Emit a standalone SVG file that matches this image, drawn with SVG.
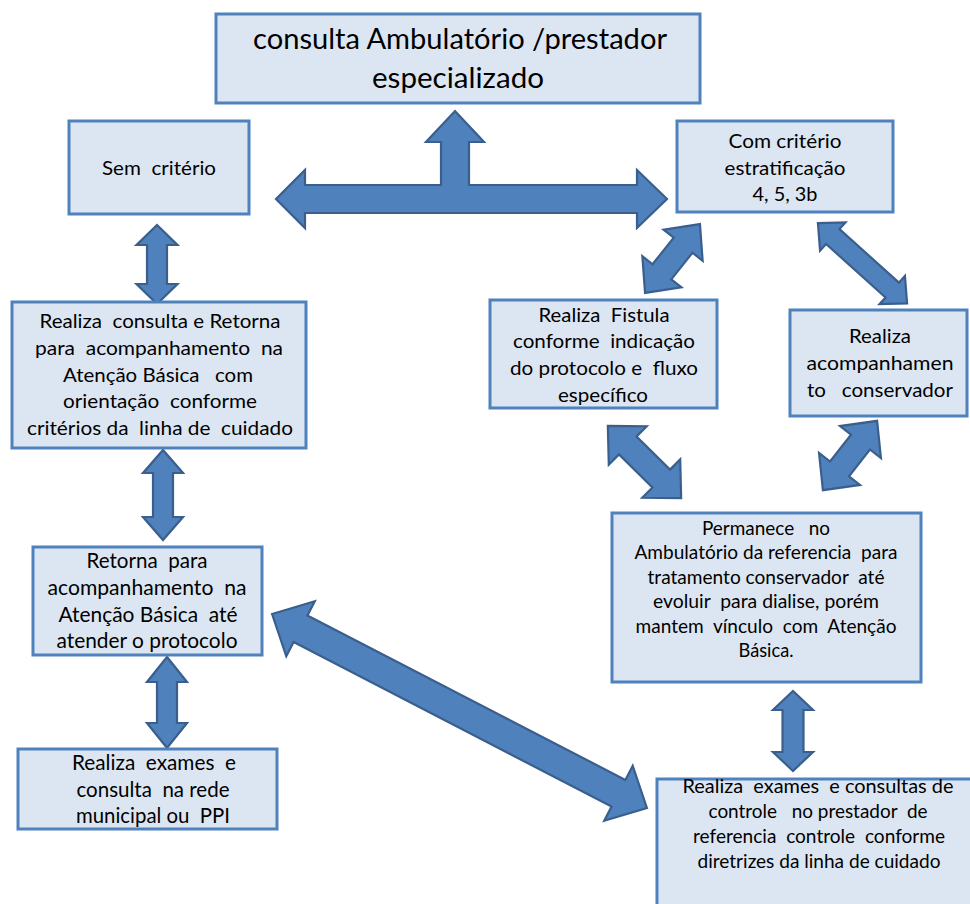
<svg xmlns="http://www.w3.org/2000/svg" width="970" height="904" viewBox="0 0 970 904">
  <style>
    .box { fill: #DCE6F2; stroke: #4F81BD; stroke-width: 3; }
    .arrow { fill: #4F81BD; stroke: #3A5F8C; stroke-width: 2.2; stroke-linejoin: miter; }
    text { font-family: Lato, "Liberation Sans", sans-serif; fill: #000; text-anchor: middle; white-space: pre; }
    .t19 { font-size: 19px; }
    .t21 { font-size: 21px; }
    .t30 { font-size: 29px; }
  </style>
  <rect width="970" height="904" fill="#fff"/>

  <g id="connectors">
    <!-- three-way arrow under the top box -->
    <polygon class="arrow" points="276,199 305,170 305,185 441,185 441,142 426,142 455,111 484,142 469,142 469,185 637,185 637,170 667,199 637,228 637,213 305,213 305,228"/>
    <!-- left column -->
    <polygon class="arrow" points="157,225 177.5,245 167,245 167,284 177.5,284 157,304 136.5,284 147,284 147,245 136.5,245"/>
    <polygon class="arrow" points="163,450 183,473 173,473 173,517 183,517 163,540 143,517 153,517 153,473 143,473"/>
    <polygon class="arrow" points="167,657 187,682 177,682 177,723 187,723 167,748 147,723 157,723 157,682 147,682"/>
    <!-- right side -->
    <polygon class="arrow" transform="translate(672.5,258.5) rotate(-51.4)" points="-44,0 -17,-25 -17,-12 17,-12 17,-25 44,0 17,25 17,12 -17,12 -17,25"/>
    <polygon class="arrow" transform="translate(862.5,263.3) rotate(42)" points="-60,0 -40,-19 -40,-10 40,-10 40,-19 60,0 40,19 40,10 -40,10 -40,19"/>
    <polygon class="arrow" transform="translate(644.5,462) rotate(44.6)" points="-51.5,0 -23.5,-27 -23.5,-12.5 23.5,-12.5 23.5,-27 51.5,0 23.5,27 23.5,12.5 -23.5,12.5 -23.5,27"/>
    <polygon class="arrow" transform="translate(850,455.5) rotate(128)" points="-44,0 -17,-26 -17,-12 17,-12 17,-26 44,0 17,26 17,12 -17,12 -17,26"/>
    <polygon class="arrow" points="793,691 813,710 803.5,710 803.5,752 813,752 793,771 773,752 782.5,752 782.5,710 773,710"/>
    <!-- long diagonal link -->
    <polygon class="arrow" transform="translate(459.5,711) rotate(27.36)" points="-211,0 -179,-31 -179,-15 179,-15 179,-31 211,0 179,31 179,15 -179,15 -179,31"/>
  </g>

  <g id="n-ambulatorio">
    <rect class="box" x="216" y="14" width="484" height="89"/>
    <text class="t30" x="460" y="49" textLength="414" lengthAdjust="spacingAndGlyphs">consulta Ambulatório /prestador</text>
    <text class="t30" x="458" y="88" textLength="172" lengthAdjust="spacingAndGlyphs">especializado</text>
  </g>

  <g id="n-sem-criterio">
    <rect class="box" x="69" y="121" width="180" height="93"/>
    <text class="t19" x="159" y="175" textLength="114" lengthAdjust="spacingAndGlyphs">Sem  critério</text>
  </g>

  <g id="n-com-criterio">
    <rect class="box" x="677" y="121" width="216" height="91"/>
    <text class="t19" x="785" y="148" textLength="113" lengthAdjust="spacingAndGlyphs">Com critério</text>
    <text class="t19" x="785" y="175" textLength="121" lengthAdjust="spacingAndGlyphs">estratificação</text>
    <text class="t19" x="785" y="201" textLength="65" lengthAdjust="spacingAndGlyphs">4, 5, 3b</text>
  </g>

  <g id="n-realiza-consulta">
    <rect class="box" x="12" y="302" width="294" height="146"/>
    <text class="t19" x="160" y="328" textLength="241" lengthAdjust="spacingAndGlyphs">Realiza  consulta e Retorna</text>
    <text class="t19" x="159" y="355" textLength="248" lengthAdjust="spacingAndGlyphs">para  acompanhamento  na</text>
    <text class="t19" x="158" y="382" textLength="190" lengthAdjust="spacingAndGlyphs">Atenção Básica   com</text>
    <text class="t19" x="160" y="408" textLength="194" lengthAdjust="spacingAndGlyphs">orientação  conforme</text>
    <text class="t19" x="160" y="435" textLength="266" lengthAdjust="spacingAndGlyphs">critérios da  linha de  cuidado</text>
  </g>

  <g id="n-fistula">
    <rect class="box" x="490" y="300" width="227" height="108"/>
    <text class="t19" x="604" y="322" textLength="131" lengthAdjust="spacingAndGlyphs">Realiza  Fistula</text>
    <text class="t19" x="604" y="348" textLength="182" lengthAdjust="spacingAndGlyphs">conforme  indicação</text>
    <text class="t19" x="604" y="375" textLength="188" lengthAdjust="spacingAndGlyphs">do protocolo e  fluxo</text>
    <text class="t19" x="603" y="402" textLength="90" lengthAdjust="spacingAndGlyphs">específico</text>
  </g>

  <g id="n-conservador">
    <rect class="box" x="790" y="310" width="177" height="106"/>
    <text class="t19" x="880" y="343" textLength="62" lengthAdjust="spacingAndGlyphs">Realiza</text>
    <text class="t19" x="880" y="370" textLength="147" lengthAdjust="spacingAndGlyphs">acompanhamen</text>
    <text class="t19" x="880" y="397" textLength="146" lengthAdjust="spacingAndGlyphs">to   conservador</text>
  </g>

  <g id="n-permanece">
    <rect class="box" x="612" y="513" width="309" height="169"/>
    <text class="t19" x="766" y="535" textLength="128" lengthAdjust="spacingAndGlyphs">Permanece   no</text>
    <text class="t19" x="766" y="559" textLength="263" lengthAdjust="spacingAndGlyphs">Ambulatório da referencia  para</text>
    <text class="t19" x="766" y="584" textLength="237" lengthAdjust="spacingAndGlyphs">tratamento conservador  até</text>
    <text class="t19" x="766" y="608" textLength="226" lengthAdjust="spacingAndGlyphs">evoluir  para dialise, porém</text>
    <text class="t19" x="766" y="633" textLength="261" lengthAdjust="spacingAndGlyphs">mantem  vínculo  com  Atenção</text>
    <text class="t19" x="766" y="657" textLength="55" lengthAdjust="spacingAndGlyphs">Básica.</text>
  </g>

  <g id="n-retorna">
    <rect class="box" x="33" y="547" width="229" height="108"/>
    <text class="t21" x="147" y="568" textLength="121" lengthAdjust="spacingAndGlyphs">Retorna  para</text>
    <text class="t21" x="147" y="595" textLength="199" lengthAdjust="spacingAndGlyphs">acompanhamento  na</text>
    <text class="t21" x="148" y="622" textLength="179" lengthAdjust="spacingAndGlyphs">Atenção Básica  até</text>
    <text class="t21" x="147" y="648" textLength="181" lengthAdjust="spacingAndGlyphs">atender o protocolo</text>
  </g>

  <g id="n-exames-municipal">
    <rect class="box" x="18" y="749" width="259" height="80"/>
    <text class="t21" x="154" y="770" textLength="164" lengthAdjust="spacingAndGlyphs">Realiza  exames  e</text>
    <text class="t21" x="153" y="797" textLength="153" lengthAdjust="spacingAndGlyphs">consulta  na rede</text>
    <text class="t21" x="153" y="823" textLength="154" lengthAdjust="spacingAndGlyphs">municipal ou  PPI</text>
  </g>

  <g id="n-exames-controle">
    <rect class="box" x="657" y="779" width="330" height="140"/>
    <text class="t19" x="818" y="793" textLength="271" lengthAdjust="spacingAndGlyphs">Realiza  exames  e consultas de</text>
    <text class="t19" x="818" y="818" textLength="219" lengthAdjust="spacingAndGlyphs">controle   no prestador  de</text>
    <text class="t19" x="819" y="843" textLength="252" lengthAdjust="spacingAndGlyphs">referencia  controle  conforme</text>
    <text class="t19" x="819" y="868" textLength="243" lengthAdjust="spacingAndGlyphs">diretrizes da linha de cuidado</text>
  </g>
</svg>
